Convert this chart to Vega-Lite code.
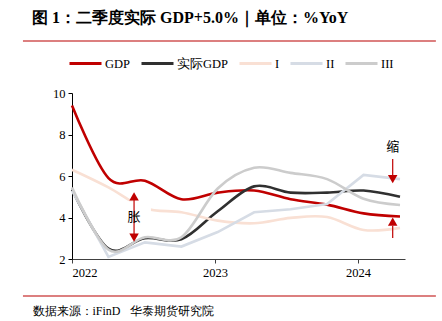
{
  "$schema": "https://vega.github.io/schema/vega-lite/v6.json",
  "width": 333,
  "height": 166,
  "autosize": {"type": "none"},
  "padding": {"left": 72, "top": 93, "right": 37, "bottom": 62},
  "background": "white",
  "config": {"view": {"stroke": null}, "font": "Liberation Serif"},
  "title": {
    "text": "图 1：二季度实际 GDP+5.0%｜单位：%YoY",
    "anchor": "start",
    "frame": "group",
    "fontSize": 16,
    "fontWeight": "bold",
    "font": "Liberation Serif",
    "color": "black",
    "dx": -40,
    "offset": 14
  },
  "datasets": {
    "series": [
      {"t": 2022.000, "s": "GDP", "v": 9.4},
      {"t": 2022.255, "s": "GDP", "v": 5.9},
      {"t": 2022.510, "s": "GDP", "v": 5.77},
      {"t": 2022.765, "s": "GDP", "v": 4.88},
      {"t": 2023.019, "s": "GDP", "v": 5.2},
      {"t": 2023.274, "s": "GDP", "v": 5.3},
      {"t": 2023.529, "s": "GDP", "v": 4.88},
      {"t": 2023.784, "s": "GDP", "v": 4.62},
      {"t": 2024.039, "s": "GDP", "v": 4.2},
      {"t": 2024.294, "s": "GDP", "v": 4.05},
      {"t": 2022.000, "s": "实际GDP", "v": 5.35},
      {"t": 2022.255, "s": "实际GDP", "v": 2.5},
      {"t": 2022.510, "s": "实际GDP", "v": 3.0},
      {"t": 2022.765, "s": "实际GDP", "v": 2.95},
      {"t": 2023.019, "s": "实际GDP", "v": 4.3},
      {"t": 2023.274, "s": "实际GDP", "v": 5.5},
      {"t": 2023.529, "s": "实际GDP", "v": 5.2},
      {"t": 2023.784, "s": "实际GDP", "v": 5.2},
      {"t": 2024.039, "s": "实际GDP", "v": 5.3},
      {"t": 2024.294, "s": "实际GDP", "v": 5.0},
      {"t": 2022.000, "s": "I", "v": 6.3},
      {"t": 2022.255, "s": "I", "v": 5.45},
      {"t": 2022.510, "s": "I", "v": 4.45},
      {"t": 2022.765, "s": "I", "v": 4.25},
      {"t": 2023.019, "s": "I", "v": 3.85},
      {"t": 2023.274, "s": "I", "v": 3.72},
      {"t": 2023.529, "s": "I", "v": 3.98},
      {"t": 2023.784, "s": "I", "v": 4.02},
      {"t": 2024.039, "s": "I", "v": 3.4},
      {"t": 2024.294, "s": "I", "v": 3.5},
      {"t": 2022.000, "s": "II", "v": 5.3},
      {"t": 2022.255, "s": "II", "v": 2.1},
      {"t": 2022.510, "s": "II", "v": 2.8},
      {"t": 2022.765, "s": "II", "v": 2.6},
      {"t": 2023.019, "s": "II", "v": 3.3},
      {"t": 2023.274, "s": "II", "v": 4.25},
      {"t": 2023.529, "s": "II", "v": 4.4},
      {"t": 2023.784, "s": "II", "v": 4.65},
      {"t": 2024.039, "s": "II", "v": 6.05},
      {"t": 2024.294, "s": "II", "v": 5.85},
      {"t": 2022.000, "s": "III", "v": 5.45},
      {"t": 2022.255, "s": "III", "v": 2.45},
      {"t": 2022.510, "s": "III", "v": 3.05},
      {"t": 2022.765, "s": "III", "v": 3.05},
      {"t": 2023.019, "s": "III", "v": 5.4},
      {"t": 2023.274, "s": "III", "v": 6.4},
      {"t": 2023.529, "s": "III", "v": 6.15},
      {"t": 2023.784, "s": "III", "v": 5.85},
      {"t": 2024.039, "s": "III", "v": 4.9},
      {"t": 2024.294, "s": "III", "v": 4.6}
    ],
    "box": [{"t1": 2022.336, "t2": 2022.552, "v1": 3.3, "v2": 4.78}],
    "shafts": [
      {"t": 2022.434, "a": 3.15, "b": 4.9},
      {"t": 2024.243, "a": 6.0, "b": 6.82},
      {"t": 2024.243, "a": 3.01, "b": 3.6}
    ],
    "heads": [
      {"t": 2022.434, "v": 5.02, "dir": "up"},
      {"t": 2022.434, "v": 3.03, "dir": "down"},
      {"t": 2024.243, "v": 5.85, "dir": "down"},
      {"t": 2024.243, "v": 3.8, "dir": "up"}
    ],
    "notes": [
      {"t": 2022.434, "v": 4.01, "txt": "胀"},
      {"t": 2024.243, "v": 7.41, "txt": "缩"}
    ],
    "frame": [{"lv": 12.51}, {"lv": 0.217}]
  },
  "layer": [
    {
      "data": {"name": "frame"},
      "mark": {"type": "rule", "color": "#D05555", "strokeWidth": 1.5, "clip": false},
      "encoding": {
        "x": {"datum": 2021.657, "type": "quantitative"},
        "x2": {"datum": 2024.545},
        "y": {"field": "lv", "type": "quantitative"}
      }
    },
    {
      "data": {"name": "series"},
      "transform": [{"filter": "datum.s === 'GDP'"}],
      "mark": {"type": "line", "interpolate": "cardinal", "strokeWidth": 2.6},
      "encoding": {
        "x": {
          "field": "t", "type": "quantitative",
          "scale": {"domain": [2022, 2024.329], "nice": false, "zero": false},
          "axis": {
            "values": [2022, 2023, 2024], "format": "d",
            "labelFont": "Liberation Serif", "labelFontSize": 12.5, "labelColor": "black",
            "labelPadding": 3, "tickSize": 4, "tickColor": "#404040", "domainColor": "#404040",
            "grid": false,
            "title": "数据来源：iFinD\u00a0\u00a0 华泰期货研究院",
            "titleFont": "Liberation Serif", "titleFontSize": 12, "titleFontWeight": "normal",
            "titleColor": "black", "titleAnchor": "start", "titleAlign": "left",
            "titleBaseline": "middle", "titleX": -40, "titleY": 51
          }
        },
        "y": {
          "field": "v", "type": "quantitative",
          "scale": {"domain": [2, 10], "nice": false, "zero": false},
          "axis": {
            "values": [2, 4, 6, 8, 10], "title": null, "grid": false,
            "labelFont": "Liberation Serif", "labelFontSize": 12.5, "labelColor": "black",
            "labelPadding": 3, "tickSize": 4, "tickColor": "black", "domainColor": "black"
          }
        },
        "color": {
          "field": "s", "type": "nominal",
          "scale": {
            "domain": ["GDP", "实际GDP", "I", "II", "III"],
            "range": ["#C00000", "#303030", "#F9E0D4", "#D6DCE5", "#CCCCCC"]
          },
          "legend": {
            "title": null, "orient": "none", "direction": "horizontal",
            "legendX": -4, "legendY": -47, "padding": 0,
            "symbolType": "stroke", "symbolSize": 1024, "symbolStrokeWidth": 3,
            "labelFont": "Liberation Serif", "labelFontSize": 12.5, "labelColor": "black",
            "labelOffset": 2, "columnPadding": 4
          }
        }
      }
    },
    {
      "data": {"name": "series"},
      "transform": [{"filter": "datum.s === '实际GDP'"}],
      "mark": {"type": "line", "interpolate": "cardinal", "strokeWidth": 2.6},
      "encoding": {
        "x": {"field": "t", "type": "quantitative"},
        "y": {"field": "v", "type": "quantitative"},
        "color": {"field": "s", "type": "nominal"}
      }
    },
    {
      "data": {"name": "series"},
      "transform": [{"filter": "datum.s === 'I'"}],
      "mark": {"type": "line", "interpolate": "cardinal", "strokeWidth": 2.6},
      "encoding": {
        "x": {"field": "t", "type": "quantitative"},
        "y": {"field": "v", "type": "quantitative"},
        "color": {"field": "s", "type": "nominal"}
      }
    },
    {
      "data": {"name": "series"},
      "transform": [{"filter": "datum.s === 'II'"}],
      "mark": {"type": "line", "interpolate": "linear", "strokeWidth": 2.6},
      "encoding": {
        "x": {"field": "t", "type": "quantitative"},
        "y": {"field": "v", "type": "quantitative"},
        "color": {"field": "s", "type": "nominal"}
      }
    },
    {
      "data": {"name": "series"},
      "transform": [{"filter": "datum.s === 'III'"}],
      "mark": {"type": "line", "interpolate": "cardinal", "strokeWidth": 2.6},
      "encoding": {
        "x": {"field": "t", "type": "quantitative"},
        "y": {"field": "v", "type": "quantitative"},
        "color": {"field": "s", "type": "nominal"}
      }
    },
    {
      "data": {"name": "box"},
      "mark": {"type": "rect", "color": "white"},
      "encoding": {
        "x": {"field": "t1", "type": "quantitative"},
        "x2": {"field": "t2"},
        "y": {"field": "v1", "type": "quantitative"},
        "y2": {"field": "v2"}
      }
    },
    {
      "data": {"name": "shafts"},
      "mark": {"type": "rule", "color": "#C00000", "strokeWidth": 1.2},
      "encoding": {
        "x": {"field": "t", "type": "quantitative"},
        "y": {"field": "a", "type": "quantitative"},
        "y2": {"field": "b"}
      }
    },
    {
      "data": {"name": "heads"},
      "mark": {"type": "point", "filled": true, "color": "#C00000", "size": 90, "opacity": 1},
      "encoding": {
        "x": {"field": "t", "type": "quantitative"},
        "y": {"field": "v", "type": "quantitative"},
        "shape": {
          "field": "dir", "type": "nominal",
          "scale": {"domain": ["up", "down"], "range": ["triangle-up", "triangle-down"]},
          "legend": null
        }
      }
    },
    {
      "data": {"name": "notes"},
      "mark": {"type": "text", "font": "Noto Sans CJK SC", "fontSize": 13, "color": "black", "align": "center", "baseline": "middle"},
      "encoding": {
        "x": {"field": "t", "type": "quantitative"},
        "y": {"field": "v", "type": "quantitative"},
        "text": {"field": "txt"}
      }
    }
  ]
}
